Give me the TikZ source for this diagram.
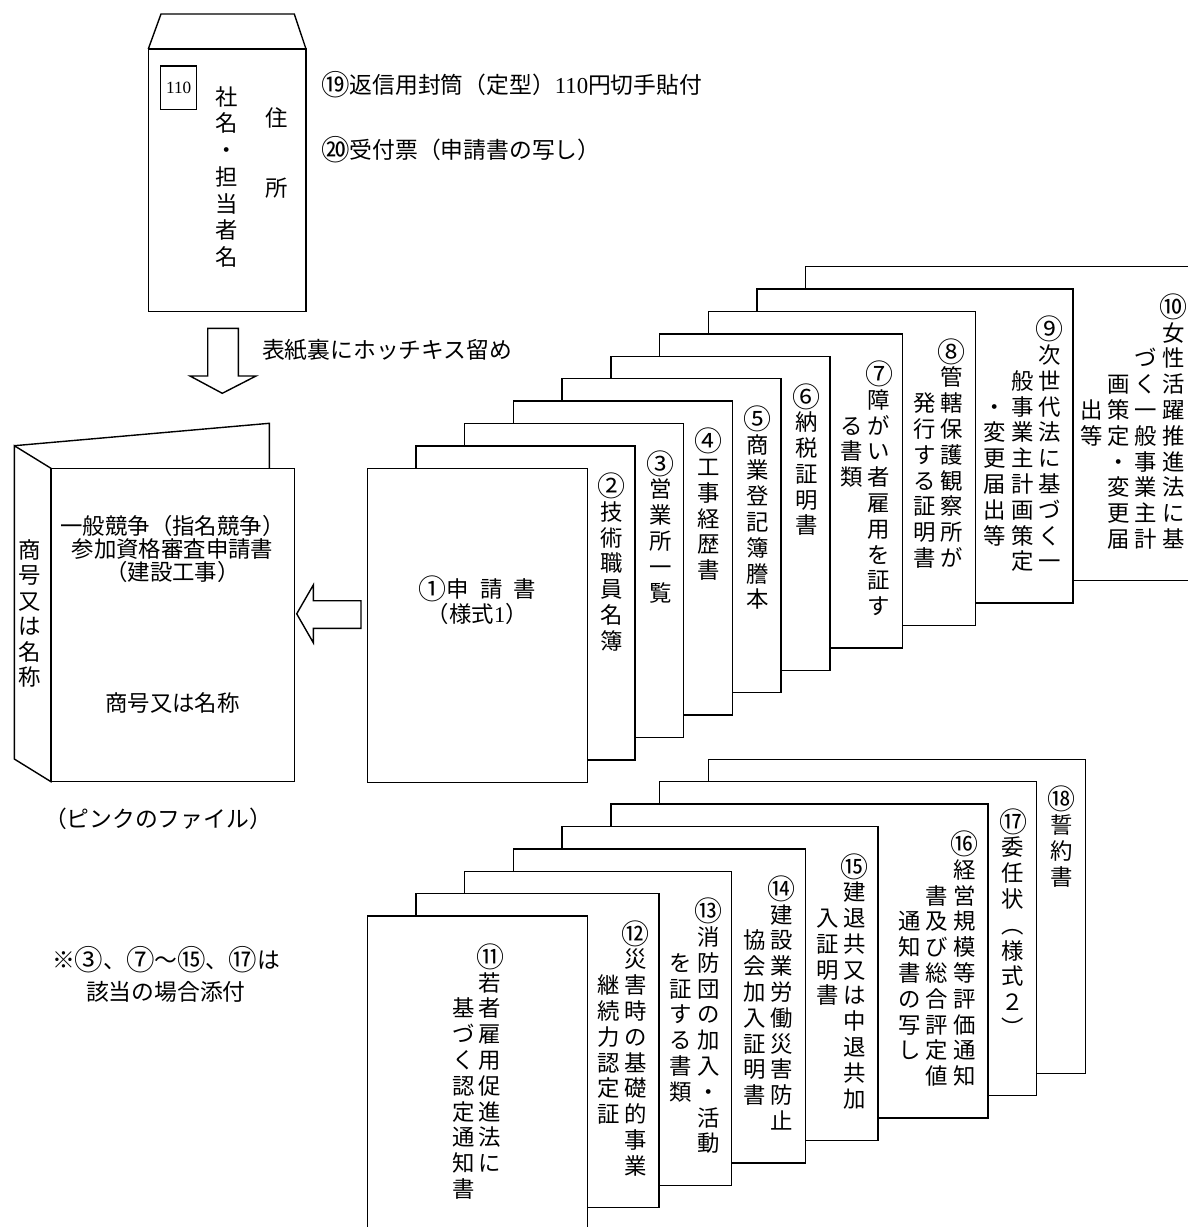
\documentclass[tikz,border=0pt]{standalone}
\usepackage{fontspec}
\usepackage{graphicx}
\setmainfont{Noto Sans CJK JP}
\newfontfamily\latinfont{Liberation Serif}
\usetikzlibrary{calc}
\makeatletter
\newcommand\tatestack[2][12.9pt]{\vtop{\baselineskip=#1\lineskiplimit=-20pt\lineskip=0pt\@tfor\tate@c:=#2\do{\hbox to 11.2pt{\hss\tate@c\hss}}}}
\makeatother
\newcommand\cn[1]{\raisebox{-1.1pt}{\scalebox{1.25}{#1}}}
\tikzset{
  x=0.5pt, y=-0.5pt,
  ln/.style={line width=0.7pt, line join=miter},
  sheetbox/.style={ln, draw, fill=white, anchor=north west, inner sep=0pt, outer sep=0pt, minimum height=157pt},
  tx/.style={inner sep=0pt, font=\fontsize{11.2}{13}\selectfont},
  hl/.style={inner sep=0pt, font=\fontsize{11.4}{13}\selectfont},
}
\newcommand\sheet[4]{\node[sheetbox, minimum width={#4*0.5pt}] (#1) at (#2,#3) {};}
\newcommand\tc[5]{\node[tx, anchor=base] (#1) at ($(#2.north east)+({-23.5-27.2*#3},{48.5+25.8*#4})$) {\tatestack{#5}};}
\begin{document}
\begin{tikzpicture}
\useasboundingbox (0,0) rectangle (1188,1227);
\clip (0,0) rectangle (1188,1227);

% ---------- envelope ----------
\node[ln, draw, fill=white, inner sep=0pt, outer sep=0pt, anchor=north west, minimum width=78.85pt, minimum height=131.35pt] (env) at (148.3,49) {};
\draw[ln] (env.north west) -- (161,14) -- (294.3,14) -- (env.north east);
\node[ln, draw, inner sep=0pt, minimum width=18pt, minimum height=21.6pt] (stamp) at (178.7,87.7) {\fontsize{8.6}{9}\latinfont 110};
\node[tx, anchor=base] (envname) at (227,105.2) {\tatestack[13.35pt]{社名・担当者名}};
\node[tx] (addr1) at (276.7,118.3) {住};
\node[tx] (addr2) at (276.7,188.3) {所};
\node[hl, anchor=west] (item19) at (320.7,85) {\cn{⑲}返信用封筒（定型）{\latinfont 110}円切手貼付};
\node[hl, anchor=west] (item20) at (320.7,150) {\cn{⑳}受付票（申請書の写し）};

% ---------- down arrow ----------
\draw[ln] (207.7,328.3) -- (238.3,328.3) -- (238.3,376) -- (256,376) -- (222.3,393.3) -- (190,376) -- (207.7,376) -- cycle;
\node[hl, anchor=west] (staple) at (261.7,350) {表紙裏にホッチキス留め};

% ---------- binder ----------
\draw[ln] (14.3,445.7) -- (269.3,423.3) -- (269.3,468.3);
\draw[ln] (14.3,445.7) -- (51,468.3) -- (51,781.7) -- (14.3,759) -- cycle;
\node[ln, draw, fill=white, inner sep=0pt, outer sep=0pt, anchor=north west, minimum width=121.65pt, minimum height=156.7pt] (binder) at (51,468.3) {};
\node[tx, anchor=base] (spine) at (29.3,558.5) {\tatestack[12.7pt]{商号又は名称}};
\node[tx, align=center, font=\fontsize{11.2}{11.3}\selectfont] (title) at (172.5,549) {一般競争（指名競争）\\参加資格審査申請書\\（建設工事）};
\node[tx] (company) at (172.5,703.3) {商号又は名称};
\node[hl] (pink) at (158,819) {（ピンクのファイル）};

% ---------- left arrow ----------
\draw[ln] (361,600.7) -- (361,628.3) -- (313.3,628.3) -- (313.3,642.7) -- (296.7,613.8) -- (313.3,585) -- (313.3,600.7) -- cycle;

% ---------- upper stack ----------
\sheet{s10}{805.6}{266.7}{391.2}
\sheet{s9}{756.9}{289.1}{316}
\sheet{s8}{708.2}{311.5}{267}
\sheet{s7}{659.5}{333.9}{243}
\sheet{s6}{610.8}{356.3}{219}
\sheet{s5}{562.1}{378.7}{219}
\sheet{s4}{513.4}{401.1}{219}
\sheet{s3}{464.7}{423.5}{219}
\sheet{s2}{416.0}{445.9}{219}
\sheet{s1}{367.3}{468.3}{220}

\tc{t10a}{s10}{0}{0}{{\cn{⑩}}女性活躍推進法に基}
\tc{t10b}{s10}{1}{2}{づく一般事業主計}
\tc{t10c}{s10}{2}{3}{画策定・変更届}
\tc{t10d}{s10}{3}{4}{出等}
\tc{t9a}{s9}{0}{0}{{\cn{⑨}}次世代法に基づく一}
\tc{t9b}{s9}{1}{2}{般事業主計画策定}
\tc{t9c}{s9}{2}{3}{・変更届出等}
\tc{t8a}{s8}{0}{0}{{\cn{⑧}}管轄保護観察所が}
\tc{t8b}{s8}{1}{2}{発行する証明書}
\tc{t7a}{s7}{0}{0}{{\cn{⑦}}障がい者雇用を証す}
\tc{t7b}{s7}{1}{2}{る書類}
\tc{t6}{s6}{0}{0}{{\cn{⑥}}納税証明書}
\tc{t5}{s5}{0}{0}{{\cn{⑤}}商業登記簿謄本}
\tc{t4}{s4}{0}{0}{{\cn{④}}工事経歴書}
\tc{t3}{s3}{0}{0}{{\cn{③}}営業所一覧}
\tc{t2}{s2}{0}{0}{{\cn{②}}技術職員名簿}
\node[tx, align=center, font=\fontsize{11.2}{12.5}\selectfont] (t1) at (477.3,600.5) {\cn{①}申\hspace{0.5em}請\hspace{0.5em}書\\（様式{\latinfont 1}）};

% ---------- lower stack ----------
\sheet{s18}{708.2}{759.2}{377}
\sheet{s17}{659.5}{781.6}{377}
\sheet{s16}{610.8}{804.0}{377}
\sheet{s15}{562.1}{826.4}{316}
\sheet{s14}{513.4}{848.8}{292}
\sheet{s13}{464.7}{871.2}{267}
\sheet{s12}{416.0}{893.6}{243}
\sheet{s11}{367.3}{916.0}{220}

\tc{t18}{s18}{0}{0}{{\cn{⑱}}誓約書}
\tc{t17}{s17}{0}{0}{{\cn{⑰}}委任状︵様式２︶}
\tc{t16a}{s16}{0}{0}{{\cn{⑯}}経営規模等評価通知}
\tc{t16b}{s16}{1}{2}{書及び総合評定値}
\tc{t16c}{s16}{2}{3}{通知書の写し}
\tc{t15a}{s15}{0}{0}{{\cn{⑮}}建退共又は中退共加}
\tc{t15b}{s15}{1}{2}{入証明書}
\tc{t14a}{s14}{0}{0}{{\cn{⑭}}建設業労働災害防止}
\tc{t14b}{s14}{1}{2}{協会加入証明書}
\tc{t13a}{s13}{0}{0}{{\cn{⑬}}消防団の加入・活動}
\tc{t13b}{s13}{1}{2}{を証する書類}
\tc{t12a}{s12}{0}{0}{{\cn{⑫}}災害時の基礎的事業}
\tc{t12b}{s12}{1}{2}{継続力認定証}
\node[tx, anchor=base] (t11a) at ($(s11.north)+(12.7,49.2)$) {\tatestack{{\cn{⑪}}若者雇用促進法に}};
\node[tx, anchor=base] (t11b) at ($(s11.north)+(-14,{49.2+2*25.8})$) {\tatestack{基づく認定通知書}};

% ---------- note ----------
\node[hl, align=center, font=\fontsize{11.4}{16}\selectfont] (note) at (166,974) {※\cn{③}、\cn{⑦}～\cn{⑮}、\cn{⑰}は\\該当の場合添付};
\end{tikzpicture}
\end{document}
